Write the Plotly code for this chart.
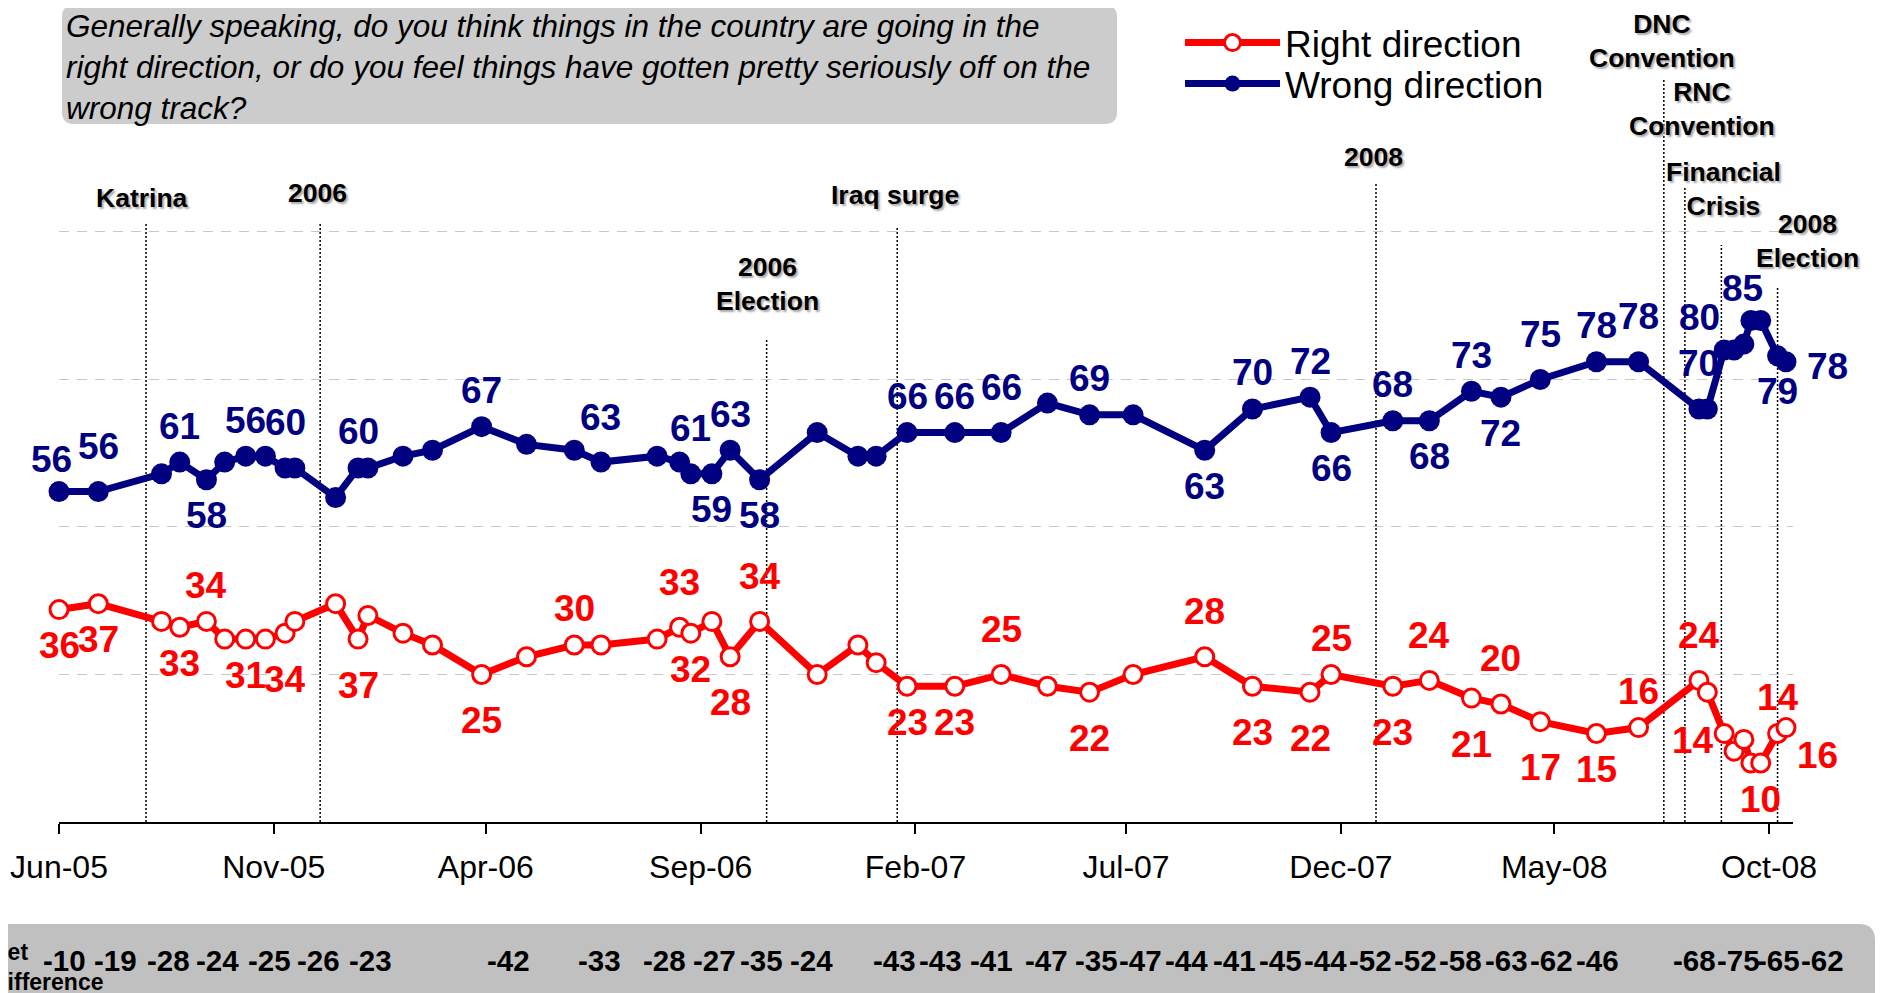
import pandas as pd
import plotly.graph_objects as go

FONT = "Liberation Sans, Arial, sans-serif"
RED = "#FF0000"
NAVY = "#000080"

# survey dates
dates = ["2005-06-01", "2005-06-29", "2005-08-13", "2005-08-26", "2005-09-14", "2005-09-27",
         "2005-10-12", "2005-10-26", "2005-11-09", "2005-11-16", "2005-12-15", "2005-12-31",
         "2006-01-07", "2006-02-01", "2006-02-22", "2006-03-29", "2006-04-30", "2006-06-03",
         "2006-06-22", "2006-08-01", "2006-08-17", "2006-08-25", "2006-09-09", "2006-09-22",
         "2006-10-13", "2006-11-23", "2006-12-22", "2007-01-04", "2007-01-26", "2007-03-01",
         "2007-04-03", "2007-05-06", "2007-06-05", "2007-07-06", "2007-08-26", "2007-09-29",
         "2007-11-09", "2007-11-24", "2008-01-07", "2008-02-02", "2008-03-03", "2008-03-24",
         "2008-04-21", "2008-05-31", "2008-06-30", "2008-08-12", "2008-08-18", "2008-08-30",
         "2008-09-06", "2008-09-13", "2008-09-18", "2008-09-25", "2008-10-07", "2008-10-13"]

wrong = [56, 56, 59, 61, 58, 61, 62, 62, 60, 60, 55, 60, 60, 62, 63, 67, 64, 63,
         61, 62, 61, 59, 59, 63, 58, 66, 62, 62, 66, 66, 66, 71, 69, 69, 63, 70,
         72, 66, 68, 68, 73, 72, 75, 78, 78, 70, 70, 80, 80, 81, 85, 85, 79, 78]

right = [36, 37, 34, 33, 34, 31, 31, 31, 32, 34, 37, 31, 35, 32, 30, 25, 28, 30,
         30, 31, 33, 32, 34, 28, 34, 25, 30, 27, 23, 23, 25, 23, 22, 25, 28, 23,
         22, 25, 23, 24, 21, 20, 17, 15, 16, 24, 22, 15, 12, 14, 10, 10, 15, 16]

# printed data labels: index of the point they belong to, and their text
wrong_label_idx = [0, 1, 3, 4, 6, 8, 11, 15, 18, 21, 22, 23, 24, 28, 29, 30, 32,
                   34, 35, 36, 37, 38, 39, 40, 41, 42, 43, 44, 45, 47, 50, 52, 53]
wrong_label_txt = ["56", "56", "61", "58", "56", "60", "60", "67", "63", "61", "59",
                   "63", "58", "66", "66", "66", "69", "63", "70", "72", "66", "68",
                   "68", "73", "72", "75", "78", "78", "70", "80", "85", "79", "78"]
right_label_idx = [0, 1, 3, 4, 6, 8, 11, 15, 17, 20, 21, 23, 24, 28, 29, 30, 32,
                   34, 35, 36, 37, 38, 39, 40, 41, 42, 43, 44, 45, 46, 51, 52, 53]
right_label_txt = ["36", "37", "33", "34", "31", "34", "37", "25", "30", "33", "32",
                   "28", "34", "23", "23", "25", "22", "28", "23", "22", "25", "23",
                   "24", "21", "20", "17", "15", "16", "24", "14", "10", "14", "16"]

# where each label sits relative to its point
wrong_label_side = ["tl", "T", "t", "b", "t", "T", "t", "t", "T", "T", "b", "t", "b", "t", "t", "T", "t",
                    "b", "t", "t", "b", "t", "b", "t", "b", "T", "t", "T", "T", "tL", "tl", "b", "r"]
right_label_side = ["b", "b", "b", "t", "b", "B", "B", "B", "t", "T", "b", "B", "T", "b", "b", "T", "B",
                    "T", "B", "B", "t", "B", "T", "B", "T", "B", "b", "t", "T", "bl", "b", "t", "br"]
SHIFT = {"t": (0, 36), "T": (0, 45), "b": (0, -36), "B": (0, -46),
         "tl": (-8, 32), "tL": (-25, 32), "bl": (-14, -48), "r": (42, -5), "br": (32, -28)}

events = ["Katrina", "2006", "2006<br>Election", "Iraq surge", "2008",
          "DNC<br>Convention", "RNC<br>Convention", "Financial<br>Crisis", "2008<br>Election"]
event_dates = ["2005-08-02", "2005-12-04", "2006-10-18", "2007-01-19", "2007-12-26",
               "2008-07-18", "2008-08-02", "2008-08-28", "2008-10-07"]

net_diff = [-10, -19, -28, -24, -25, -26, -23, -42, -33, -28, -27, -35, -24, -43, -43, -41, -47,
            -35, -47, -44, -41, -45, -44, -52, -52, -58, -63, -62, -46, -68, -75, -65, -62]
net_diff_dates = ["2005-06-05", "2005-07-11", "2005-08-18", "2005-09-22", "2005-10-29", "2005-12-03",
                  "2006-01-09", "2006-04-17", "2006-06-21", "2006-08-06", "2006-09-11", "2006-10-14",
                  "2006-11-19", "2007-01-17", "2007-02-19", "2007-03-27", "2007-05-05", "2007-06-10",
                  "2007-07-11", "2007-08-13", "2007-09-16", "2007-10-19", "2007-11-20", "2007-12-22",
                  "2008-01-23", "2008-02-24", "2008-03-28", "2008-04-29", "2008-06-01", "2008-08-09",
                  "2008-09-09", "2008-10-08", "2008-11-08"]

tick_dates = ["2005-06-01", "2005-11-01", "2006-04-01", "2006-09-01", "2007-02-01",
              "2007-07-01", "2007-12-01", "2008-05-01", "2008-10-01"]
tick_labels = ["Jun-05", "Nov-05", "Apr-06", "Sep-06", "Feb-07", "Jul-07", "Dec-07", "May-08", "Oct-08"]

X_RANGE = ["2005-06-01", "2008-10-18"]
Y_RANGE = [0, 100.5]   # a hair above 100 so the top gridline is drawn

# page geometry: the html body adds an 8px margin, so work in screen pixels
W, H = 1883, 993
OFF = 8
X0, X1, Y0, Y1 = 59, 1793, 229, 822     # plot area on screen


def px(x):
    return (x - X0) / (X1 - X0)


def py(y):
    return (Y1 - y) / (Y1 - Y0)


def date_frac(d):
    t0, t1 = pd.Timestamp(X_RANGE[0]), pd.Timestamp(X_RANGE[1])
    return (pd.Timestamp(d) - t0) / (t1 - t0)


def rounded_box(x0, y0, x1, y1, r):
    """SVG path (paper coords) for a box given in screen pixels, with rounded corners."""
    a, b, c, d = px(x0), px(x1), py(y0), py(y1)
    rx, ry = r / (X1 - X0), r / (Y1 - Y0)
    return (f"M{a + rx},{c} L{b - rx},{c} Q{b},{c} {b},{c - ry} L{b},{d + ry} "
            f"Q{b},{d} {b - rx},{d} L{a + rx},{d} Q{a},{d} {a},{d + ry} "
            f"L{a},{c - ry} Q{a},{c} {a + rx},{c} Z")


fig = go.Figure()
fig.add_trace(go.Scatter(
    x=dates, y=right, name="Right direction", mode="lines+markers",
    line=dict(color=RED, width=7),
    marker=dict(size=18, color="white", line=dict(color=RED, width=3)),
    cliponaxis=False, legend="legend",
))
fig.add_trace(go.Scatter(
    x=dates, y=wrong, name="Wrong direction", mode="lines+markers",
    line=dict(color=NAVY, width=7),
    marker=dict(size=21, color=NAVY),
    cliponaxis=False, legend="legend2",
))

annotations = []
for idxs, txts, sides, vals, col in [
    (wrong_label_idx, wrong_label_txt, wrong_label_side, wrong, NAVY),
    (right_label_idx, right_label_txt, right_label_side, right, RED),
]:
    for i, t, s in zip(idxs, txts, sides):
        dx, dy = SHIFT[s]
        annotations.append(dict(
            x=dates[i], y=vals[i], text=t, showarrow=False, xshift=dx, yshift=dy,
            xanchor="center", yanchor="middle",
            font=dict(family=FONT, size=37, color=col, weight="bold"),
        ))

# event markers: dotted line + label
line_top = [223, 223, 340, 227, 183, 80, 187, 245, 288]
label_y = [198, 193, 284, 195, 157, 41, 109, 189, 241]
label_dx = [-4, -3, 1, -2, -3, -2, 17, 2, 30]
shapes = []
for ev, d, top, ly, dx in zip(events, event_dates, line_top, label_y, label_dx):
    shapes.append(dict(type="line", xref="x", yref="paper", x0=d, x1=d, y0=0, y1=py(top),
                       line=dict(color="black", width=1.5, dash="2px,2px"), layer="below"))
    annotations.append(dict(
        xref="x", yref="paper", x=d, y=py(ly), xshift=dx, text=ev, showarrow=False,
        xanchor="center", yanchor="middle",
        font=dict(family=FONT, size=26.5, color="black", weight="bold",
                  shadow="2px 2px 2px #aaaaaa"),
    ))

# question box
shapes.append(dict(type="path", xref="paper", yref="paper", path=rounded_box(62, 5, 1117, 124, 12),
                   fillcolor="#cccccc", line=dict(width=0), layer="below"))
annotations.append(dict(
    xref="paper", yref="paper", x=px(64), y=py(67), xanchor="left", yanchor="middle",
    align="left", showarrow=False,
    text=("Generally speaking, do you think things in the country are going in the<br>"
          "right direction, or do you feel things have gotten pretty seriously off on the<br>"
          "wrong track?"),
    font=dict(family=FONT, size=31.5, color="black", style="italic"),
))

# net difference band
shapes.append(dict(type="path", xref="paper", yref="paper", path=rounded_box(-20, 924, 1875, 1010, 16),
                   fillcolor="#c0c0c0", line=dict(width=0), layer="below"))
annotations.append(dict(
    xref="paper", yref="paper", x=px(-11), y=py(967), xanchor="left", yanchor="middle",
    align="left", showarrow=False, text="Net<br>Difference",
    font=dict(family=FONT, size=23, color="black", weight="bold"),
))
for v, d in zip(net_diff, net_diff_dates):
    annotations.append(dict(
        xref="paper", yref="paper", x=date_frac(d), y=py(960), showarrow=False,
        xanchor="center", yanchor="middle",
        text=str(v), font=dict(family=FONT, size=29.5, color="black", weight="bold"),
    ))

legend_style = dict(x=px(1180), xanchor="left", yanchor="middle",
                    font=dict(family=FONT, size=37, color="black"),
                    bgcolor="rgba(0,0,0,0)", itemwidth=95)

fig.update_layout(
    width=W, height=H,
    margin=dict(l=X0 - OFF, r=W - (X1 - OFF), t=Y0 - OFF, b=H - (Y1 - OFF), pad=0, autoexpand=False),
    paper_bgcolor="white", plot_bgcolor="white",
    font=dict(family=FONT, color="black"),
    showlegend=True,
    legend=dict(y=py(43), **legend_style),
    legend2=dict(y=py(84), **legend_style),
    xaxis=dict(
        type="date", range=X_RANGE, showgrid=False, zeroline=False,
        showline=True, linecolor="black", linewidth=2,
        ticks="outside", ticklen=10, tickwidth=2, tickcolor="black",
        tickvals=tick_dates, ticktext=tick_labels, ticklabelstandoff=6,
        tickfont=dict(family=FONT, size=32, color="black"),
    ),
    yaxis=dict(
        range=Y_RANGE, tick0=0, dtick=25, showticklabels=False, ticks="",
        showgrid=True, gridcolor="#c8c8c8", gridwidth=1, griddash="10px,8px",
        zeroline=False, showline=False,
    ),
    shapes=shapes,
    annotations=annotations,
)

fig.write_html("out.html")
